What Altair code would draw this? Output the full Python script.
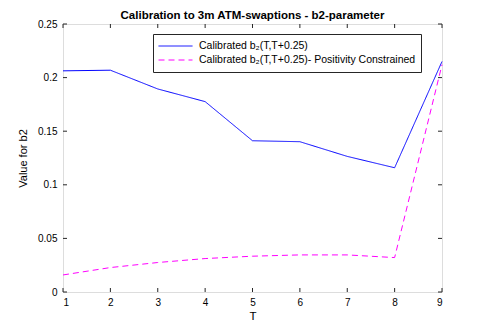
import altair as alt
import pandas as pd

T = [1, 2, 3, 4, 5, 6, 7, 8, 9]
b2_calibrated = [0.2063, 0.2069, 0.1894, 0.1776, 0.1411, 0.1402, 0.1265, 0.1159, 0.2150]
b2_positive = [0.0159, 0.0228, 0.0275, 0.0312, 0.0334, 0.0346, 0.0346, 0.0321, 0.2120]
series_names = [
    "Calibrated b\u2082(T,T+0.25)",
    "Calibrated b\u2082(T,T+0.25)- Positivity Constrained",
]
series_colors = ["#0000ff", "#ff00ff"]
series_dashes = [[1, 0], [6, 4]]
x_ticks = [1, 2, 3, 4, 5, 6, 7, 8, 9]
y_ticks = [0, 0.05, 0.1, 0.15, 0.2, 0.25]

W, H = 379, 268
AX = "#262626"
FONT = "Liberation Sans"

rows = []
for name, vals in zip(series_names, [b2_calibrated, b2_positive]):
    for t, v in zip(T, vals):
        rows.append({"T": t, "value": v, "series": name})
df = pd.DataFrame(rows)
xt = pd.DataFrame({"T": x_ticks})
yt = pd.DataFrame({"value": y_ticks})

xscale = alt.Scale(domain=[1, 9], nice=False)
yscale = alt.Scale(domain=[0, 0.25], nice=False)

lines = alt.Chart(df).mark_line(strokeWidth=1).encode(
    x=alt.X("T:Q", scale=xscale,
            axis=alt.Axis(values=x_ticks, title="T", ticks=False, domain=False,
                          grid=False, labelPadding=5, titleY=24,
                          titleBaseline="middle", format="d",
                          titleFontWeight="normal", titleFontSize=11.5)),
    y=alt.Y("value:Q", scale=yscale,
            axis=alt.Axis(values=y_ticks, title="Value for b2", ticks=False,
                          domain=False, grid=False, labelPadding=6,
                          format="~g",
                          titleX=-40, titleY=H / 2, titleAngle=-90,
                          titleAlign="center", titleBaseline="middle",
                          titleFontWeight="normal", titleFontSize=11)),
    color=alt.Color("series:N",
                    scale=alt.Scale(domain=series_names, range=series_colors),
                    legend=alt.Legend(title=None, orient="none", legendX=90,
                                      legendY=10, symbolType="stroke",
                                      symbolSize=1156, clipHeight=14,
                                      symbolStrokeWidth=1, labelOffset=6,
                                      padding=5, rowPadding=0,
                                      strokeColor=AX, fillColor="white",
                                      labelFontSize=10.5, labelFont=FONT,
                                      labelColor="#000000", labelLimit=400)),
    strokeDash=alt.StrokeDash("series:N",
                              scale=alt.Scale(domain=series_names,
                                              range=series_dashes),
                              legend=None),
)

tick_len = 4
left_ticks = alt.Chart(yt).mark_rule(color=AX, strokeWidth=1).encode(
    y=alt.Y("value:Q", scale=yscale), x=alt.value(0), x2=alt.value(tick_len))
right_ticks = alt.Chart(yt).mark_rule(color=AX, strokeWidth=1).encode(
    y=alt.Y("value:Q", scale=yscale), x=alt.value(W - tick_len), x2=alt.value(W))
bottom_ticks = alt.Chart(xt).mark_rule(color=AX, strokeWidth=1).encode(
    x=alt.X("T:Q", scale=xscale), y=alt.value(H), y2=alt.value(H - tick_len))
top_ticks = alt.Chart(xt).mark_rule(color=AX, strokeWidth=1).encode(
    x=alt.X("T:Q", scale=xscale), y=alt.value(0), y2=alt.value(tick_len))

chart = alt.layer(lines, left_ticks, right_ticks, bottom_ticks, top_ticks).properties(
    width=W, height=H,
    title=alt.TitleParams("Calibration to 3m ATM-swaptions - b2-parameter",
                          fontSize=11.5, fontWeight="bold", font=FONT,
                          color="#000000", anchor="middle", offset=5, dy=7),
    autosize=alt.AutoSizeParams(type="none"),
    padding={"left": 55, "top": 16, "right": 38, "bottom": 30},
).configure_view(
    stroke=AX, strokeWidth=1
).configure_axis(
    labelFont=FONT, titleFont=FONT, labelFontSize=10.5,
    labelColor=AX, titleColor=AX,
).configure(background="white")

chart.save("out.html", embed_options={"renderer": "svg", "actions": False})
